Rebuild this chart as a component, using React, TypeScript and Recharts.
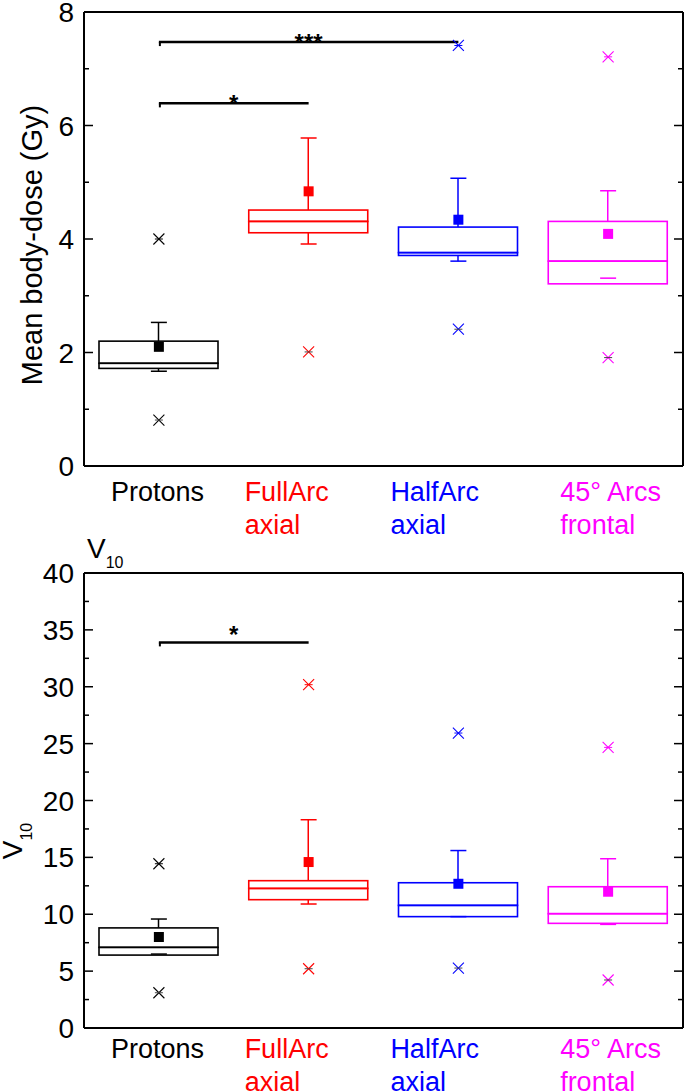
import React from 'react'
import { ComposedChart, Bar, Scatter, XAxis, YAxis, ReferenceLine } from 'recharts'

const CATEGORIES = ['Protons', 'FullArc axial', 'HalfArc axial', '45° Arcs frontal']
const CAT_LINES = [['Protons'], ['FullArc', 'axial'], ['HalfArc', 'axial'], ['45° Arcs', 'frontal']]

// mean body dose (Gy)
const DOSE_Q1 = [1.72, 4.11, 3.71, 3.21]
const DOSE_MED = [1.81, 4.31, 3.76, 3.61]
const DOSE_Q3 = [2.2, 4.51, 4.21, 4.31]
const DOSE_WLO = [1.67, 3.91, 3.61, 3.31]
const DOSE_WHI = [2.53, 5.78, 5.07, 4.85]
const DOSE_MEAN = [2.1, 4.84, 4.34, 4.09]
const DOSE_OUT_HI = [4.0, null, 7.41, 7.21]
const DOSE_OUT_LO = [0.81, 2.01, 2.41, 1.91]
const DOSE_TICKS = [0, 1, 2, 3, 4, 5, 6, 7, 8]

// V10
const V_Q1 = [6.41, 11.28, 9.79, 9.2]
const V_MED = [7.09, 12.27, 10.78, 10.05]
const V_Q3 = [8.8, 12.95, 12.77, 12.42]
const V_WLO = [6.5, 10.9, 9.79, 9.11]
const V_WHI = [9.58, 18.31, 15.6, 14.88]
const V_MEAN = [8.0, 14.59, 12.68, 11.98]
const V_OUT_HI = [14.44, 30.18, 25.93, 24.67]
const V_OUT_LO = [3.1, 5.21, 5.27, 4.22]
const V_TICKS = [0, 2.5, 5, 7.5, 10, 12.5, 15, 17.5, 20, 22.5, 25, 27.5, 30, 32.5, 35, 37.5, 40]

const DOSE_SIG = [
  { from: 'Protons', to: 'FullArc axial', y: 6.39, stars: '*' },
  { from: 'Protons', to: 'HalfArc axial', y: 7.47, stars: '***' },
]
const V_SIG = [{ from: 'Protons', to: 'FullArc axial', y: 33.9, stars: '*' }]

const COLORS = ['#000000', '#ff0000', '#0000ff', '#ff00ff']
const LABEL_DX = [-48, -64, -68, -48]
const FONT = '"Liberation Sans", Arial, sans-serif'

function buildRows(q1: number[], med: number[], q3: number[], wlo: number[], whi: number[],
  mean: number[], outHi: (number | null)[], outLo: (number | null)[]) {
  return CATEGORIES.map((name, i) => {
    const base = Math.min(wlo[i], q1[i])
    return {
      name, idx: i, base,
      lowW: q1[i] - base,
      boxLo: med[i] - q1[i],
      boxHi: q3[i] - med[i],
      highW: whi[i] - q3[i],
      wlo: wlo[i], whi: whi[i], mean: mean[i], outHi: outHi[i], outLo: outLo[i],
    }
  })
}

const doseRows = buildRows(DOSE_Q1, DOSE_MED, DOSE_Q3, DOSE_WLO, DOSE_WHI, DOSE_MEAN, DOSE_OUT_HI, DOSE_OUT_LO)
const vRows = buildRows(V_Q1, V_MED, V_Q3, V_WLO, V_WHI, V_MEAN, V_OUT_HI, V_OUT_LO)

const norm = (y: number, h: number) => (h < 0 ? [y + h, -h] : [y, h])

const BoxPart = (p: any) => {
  const [top, h] = norm(p.y, p.height)
  return <rect x={p.x} y={top} width={p.width} height={h} fill="none" stroke={COLORS[p.payload.idx]} strokeWidth={1.6} />
}

const Whisker = (p: any) => {
  const [top, h] = norm(p.y, p.height)
  if (!h) return <g />
  const cx = p.x + p.width / 2
  return <line x1={cx} x2={cx} y1={top} y2={top + h} stroke={COLORS[p.payload.idx]} strokeWidth={1.5} />
}

const Empty = () => <g />

const ok = (p: any, key: string) => p.payload && p.payload[key] != null && Number.isFinite(p.cy)

const capShape = (key: string) => (p: any) => {
  if (!ok(p, key)) return <g />
  return <line x1={p.cx - 8} x2={p.cx + 8} y1={p.cy} y2={p.cy} stroke={COLORS[p.payload.idx]} strokeWidth={1.5} />
}

const meanShape = (p: any) => {
  if (!ok(p, 'mean')) return <g />
  return <rect x={p.cx - 5} y={p.cy - 5} width={10} height={10} fill={COLORS[p.payload.idx]} />
}

const outShape = (key: string, dash: string | null) => (p: any) => {
  if (!ok(p, key)) return <g />
  const c = COLORS[p.payload.idx]
  const s = 5.5
  return (
    <g>
      <line x1={p.cx - s} x2={p.cx + s} y1={p.cy - s} y2={p.cy + s} stroke={c} strokeWidth={1.1} />
      <line x1={p.cx - s} x2={p.cx + s} y1={p.cy + s} y2={p.cy - s} stroke={c} strokeWidth={1.1} />
      <line x1={p.cx - 4} x2={p.cx + 4} y1={p.cy} y2={p.cy} stroke={dash || c} strokeWidth={1} />
    </g>
  )
}

const sigShape = (stars: string, dy: number) => (p: any) => {
  const { x1, x2, y1 } = p
  return (
    <g>
      <line x1={x1} x2={x2} y1={y1} y2={y1} stroke="#000" strokeWidth={2.5} />
      <line x1={x1 + 1} x2={x1 + 1} y1={y1} y2={y1 + 4} stroke="#000" strokeWidth={2} />
      <text x={(x1 + x2) / 2} y={y1 + dy} textAnchor="middle" fontSize={24} fontWeight="bold" fill="#000">{stars}</text>
    </g>
  )
}

const isMajor = (v: number, every: number) => Math.abs(v / every - Math.round(v / every)) < 1e-6

const leftTick = (every: number) => (p: any) => {
  const v = p.payload.value
  const major = isMajor(v, every)
  return (
    <g>
      <line x1={p.x} x2={p.x + (major ? 9 : 5)} y1={p.y} y2={p.y} stroke="#000" strokeWidth={1.5} />
      {major && (
        <text x={p.x - 10} y={p.y} dy="0.36em" textAnchor="end" fontSize={28} fill="#000">{v}</text>
      )}
    </g>
  )
}

const rightTick = (every: number) => (p: any) => {
  const major = isMajor(p.payload.value, every)
  return <line x1={p.x} x2={p.x - (major ? 9 : 5)} y1={p.y} y2={p.y} stroke="#000" strokeWidth={1.5} />
}

const xTick = (dy1: number, gap: number) => (p: any) => {
  const i = CATEGORIES.indexOf(p.payload.value)
  const tx = p.x + LABEL_DX[i]
  return (
    <text x={tx} y={p.y + dy1} fontSize={27} fill={COLORS[i]} textAnchor="start">
      {CAT_LINES[i].map((l, k) => (
        <tspan key={k} x={tx} dy={k === 0 ? 0 : gap}>{l}</tspan>
      ))}
    </text>
  )
}

type ChartProps = {
  rows: any[]
  ticks: number[]
  every: number
  domain: [number, number]
  sigs: { from: string; to: string; y: number; stars: string }[]
  top: number
  plotH: number
  dy1: number
  starDy: number
}

const H = 546

function BoxChart({ rows, ticks, every, domain, sigs, top, plotH, dy1, starDy }: ChartProps) {
  const axisLine = { stroke: '#000', strokeWidth: 2 }
  return (
    <ComposedChart width={685} height={H} data={rows} barSize={119}
      margin={{ top: top - 1, right: 1, bottom: 0, left: 0 }}>
      <XAxis dataKey="name" type="category" interval={0} axisLine={axisLine} tickLine={false}
        tickSize={0} tickMargin={0} height={H - top - plotH} tick={xTick(dy1, 33)} />
      <XAxis xAxisId="top" dataKey="name" type="category" orientation="top" axisLine={axisLine} tickLine={false}
        tick={false} height={1} />
      <YAxis type="number" domain={domain} ticks={ticks} interval={0} width={84} axisLine={axisLine}
        tickLine={false} tickSize={0} tickMargin={0} tick={leftTick(every)} allowDataOverflow />
      <YAxis yAxisId="r" orientation="right" type="number" domain={domain} ticks={ticks} interval={0}
        width={1} axisLine={axisLine} tickLine={false} tickSize={0} tickMargin={0}
        tick={rightTick(every)} allowDataOverflow />
      <Bar dataKey="base" stackId="b" shape={Empty} isAnimationActive={false} />
      <Bar dataKey="lowW" stackId="b" shape={Whisker} isAnimationActive={false} />
      <Bar dataKey="boxLo" stackId="b" shape={BoxPart} isAnimationActive={false} />
      <Bar dataKey="boxHi" stackId="b" shape={BoxPart} isAnimationActive={false} />
      <Bar dataKey="highW" stackId="b" shape={Whisker} isAnimationActive={false} />
      <Scatter dataKey="whi" shape={capShape('whi')} isAnimationActive={false} />
      <Scatter dataKey="wlo" shape={capShape('wlo')} isAnimationActive={false} />
      <Scatter dataKey="mean" shape={meanShape} isAnimationActive={false} />
      <Scatter dataKey="outHi" shape={outShape('outHi', null)} isAnimationActive={false} />
      <Scatter dataKey="outLo" shape={outShape('outLo', '#444')} isAnimationActive={false} />
      {/* invisible series so the frame axes (top / right) get drawn */}
      <Scatter dataKey="mean" xAxisId="top" yAxisId="r" shape={Empty} isAnimationActive={false} />
      {sigs.map((s, k) => (
        <ReferenceLine key={k} segment={[{ x: s.from, y: s.y }, { x: s.to, y: s.y }]}
          shape={sigShape(s.stars, starDy)} />
      ))}
    </ComposedChart>
  )
}

export default function App() {
  return (
    <div style={{ position: 'absolute', left: 0, top: 0, width: 685, height: 1092, background: '#fff', fontFamily: FONT, overflow: 'hidden' }}>
      <div style={{ position: 'absolute', left: 0, top: 0 }}>
        <BoxChart rows={doseRows} ticks={DOSE_TICKS} every={2} domain={[0, 8]} sigs={DOSE_SIG}
          top={12} plotH={454} dy1={35} starDy={8.5} />
      </div>
      <div style={{ position: 'absolute', left: 0, top: 546 }}>
        <BoxChart rows={vRows} ticks={V_TICKS} every={5} domain={[0, 40]} sigs={V_SIG}
          top={27} plotH={455} dy1={30} starDy={1} />
      </div>
      <svg width={685} height={1092} style={{ position: 'absolute', left: 0, top: 0, pointerEvents: 'none' }}>
        <text transform="translate(42,245) rotate(-90)" textAnchor="middle" fontSize={29} fill="#000">Mean body-dose (Gy)</text>
        <text x={87} y={558} fontSize={28} fill="#000">V<tspan fontSize={16} dy={10}>10</tspan></text>
        <text transform="translate(22,841) rotate(-90)" textAnchor="middle" fontSize={28} fill="#000">V<tspan fontSize={16} dy={10}>10</tspan></text>
      </svg>
    </div>
  )
}
